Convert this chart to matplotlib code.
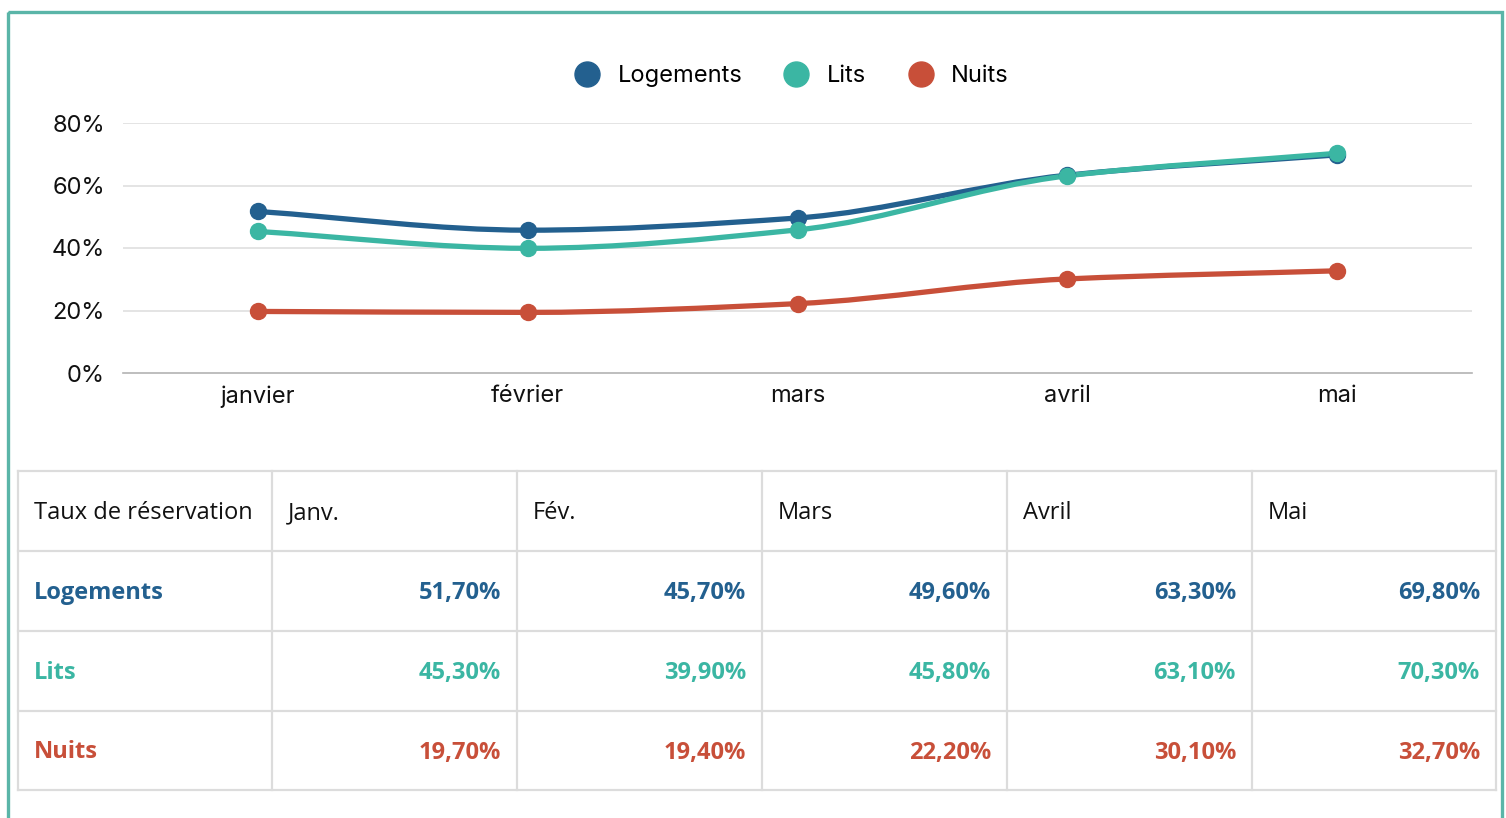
import numpy as np
import matplotlib.pyplot as plt
from matplotlib.path import Path
from matplotlib.patches import PathPatch, Rectangle
from matplotlib.lines import Line2D

months = ["janvier", "février", "mars", "avril", "mai"]
table_months = ["Janv.", "Fév.", "Mars", "Avril", "Mai"]
series_names = ["Logements", "Lits", "Nuits"]
logements = [51.7, 45.7, 49.6, 63.3, 69.8]
lits = [45.3, 39.9, 45.8, 63.1, 70.3]
nuits = [19.7, 19.4, 22.2, 30.1, 32.7]
yticks = [0, 20, 40, 60, 80]

colors = {"Logements": "#23608f", "Lits": "#3bb6a3", "Nuits": "#c84f39"}
values = {"Logements": logements, "Lits": lits, "Nuits": nuits}

plt.rcParams['font.family'] = ['Inter', 'DejaVu Sans']

W, H = 1506, 818
fig = plt.figure(figsize=(W / 100, H / 100), dpi=100)


def monotone_path(x, y):
    # Fritsch-Carlson slopes, drawn as cubic bezier segments
    x = np.asarray(x, float)
    y = np.asarray(y, float)
    h = np.diff(x)
    d = np.diff(y) / h
    m = np.zeros_like(y)
    m[0], m[-1] = d[0], d[-1]
    for i in range(1, len(y) - 1):
        if d[i - 1] * d[i] <= 0:
            m[i] = 0
        else:
            m[i] = 2 / (1 / d[i - 1] + 1 / d[i])
    verts = [(x[0], y[0])]
    codes = [Path.MOVETO]
    for i in range(len(x) - 1):
        verts += [(x[i] + h[i] / 3, y[i] + m[i] * h[i] / 3),
                  (x[i + 1] - h[i] / 3, y[i + 1] - m[i + 1] * h[i] / 3),
                  (x[i + 1], y[i + 1])]
        codes += [Path.CURVE4] * 3
    return Path(verts, codes)


# line chart
ax = fig.add_axes([123 / W, 1 - 373 / H, (1472 - 123) / W, 250 / H])
xs = np.arange(len(months))
for name in ["Nuits", "Logements", "Lits"]:
    ax.add_patch(PathPatch(monotone_path(xs, values[name]), fill=False,
                           edgecolor=colors[name], lw=3.8, capstyle='round', zorder=3))
    ax.plot(xs, values[name], 'o', color=colors[name], markersize=11.5, zorder=4)

ax.set_xlim(-0.5, len(months) - 0.5)
ax.set_ylim(0, 80)
ax.set_yticks(yticks)
ax.set_yticklabels([f"{v}%" for v in yticks], fontsize=17, color="#111111")
ax.set_xticks(xs)
ax.set_xticklabels(months, fontsize=17, color="#111111")
ax.tick_params(length=0)
ax.tick_params(axis='y', pad=13)
ax.tick_params(axis='x', pad=9)
for s in ["top", "right", "left"]:
    ax.spines[s].set_visible(False)
ax.spines["bottom"].set_color("#b3b3b3")
ax.spines["bottom"].set_linewidth(1.2)
ax.spines["bottom"].set_zorder(1)
for v in yticks[1:]:
    ax.axhline(v, color="#dddddd", lw=1.1, zorder=1)

handles = [Line2D([], [], marker='o', ls='', color=colors[n], markersize=18) for n in series_names]
fig.legend(handles, series_names, loc='center', bbox_to_anchor=(786 / W, 1 - 76 / H),
           ncol=3, frameon=False, fontsize=17, handletextpad=0.3, columnspacing=1.3,
           borderaxespad=0)

# overlay in pixel coordinates for table and frame
ov = fig.add_axes([0, 0, 1, 1])
ov.set_xlim(0, W)
ov.set_ylim(H, 0)
ov.axis('off')
ov.patch.set_alpha(0)

ov.add_patch(Rectangle((8.5, 11.5), 1494, 830, fill=False, edgecolor="#5ab5a8", lw=2.4))

col_edges = [18, 272, 517, 762, 1007, 1252, 1496]
row_edges = [471, 551, 631, 711, 790]
grid_color = "#dcdcdc"
for xe in col_edges:
    ov.plot([xe, xe], [row_edges[0], row_edges[-1]], color=grid_color, lw=1.6)
for ye in row_edges:
    ov.plot([col_edges[0], col_edges[-1]], [ye, ye], color=grid_color, lw=1.6)

tfont = ['Open Sans', 'DejaVu Sans']
row_mid = [(row_edges[i] + row_edges[i + 1]) / 2 + 2 for i in range(len(row_edges) - 1)]
ov.text(col_edges[0] + 16, row_mid[0], "Taux de réservation", fontsize=17,
        family=tfont, va='center', ha='left', color="#111111")
for j, lab in enumerate(table_months):
    ov.text(col_edges[j + 1] + 16, row_mid[0], lab, fontsize=17, family=tfont,
            va='center', ha='left', color="#111111")
for i, name in enumerate(series_names):
    ov.text(col_edges[0] + 16, row_mid[i + 1], name, fontsize=17, family=tfont,
            weight='bold', va='center', ha='left', color=colors[name])
    for j, v in enumerate(values[name]):
        ov.text(col_edges[j + 2] - 16, row_mid[i + 1], f"{v:.2f}%".replace('.', ','),
                fontsize=17, family=tfont, weight='bold', va='center', ha='right',
                color=colors[name])

fig.savefig("out.png", dpi=100)
